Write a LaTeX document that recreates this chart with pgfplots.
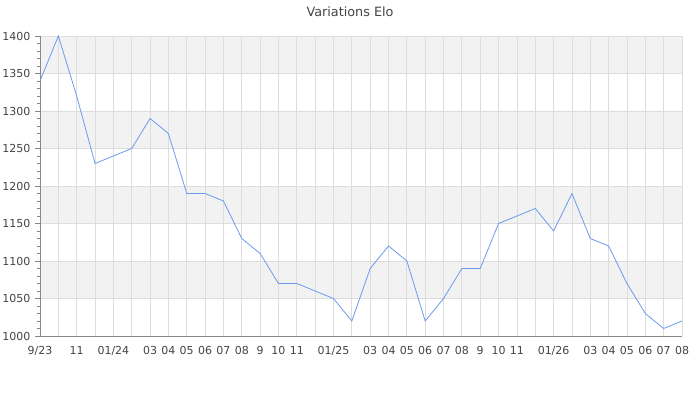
\documentclass[border=0pt]{standalone}
\usepackage{pgfplots}
\pgfplotsset{compat=1.18}
\usepackage{fontspec}
\setmainfont{DejaVu Sans}
\definecolor{txt}{HTML}{444444}
\definecolor{band}{HTML}{F2F2F2}
\definecolor{gridc}{HTML}{DDDDDD}
\definecolor{axisc}{HTML}{888888}
\definecolor{linec}{HTML}{6A9BEF}
\begin{document}
\begin{tikzpicture}
\node[text=txt, font=\fontsize{12.8}{15}\selectfont] at (350pt,388pt) {Variations Elo};
\begin{axis}[
  set layers,
  at={(40pt,64pt)}, anchor=south west,
  scale only axis, width=642pt, height=300pt,
  xmin=0, xmax=35, ymin=1000, ymax=1400,
  axis x line*=bottom, axis y line*=left,
  axis line style={axisc, line width=0.8pt, -},
  xtick={0,...,35},
  xticklabels={9/23,,11,,01/24,,03,04,05,06,07,08,9,10,11,,01/25,,03,04,05,06,07,08,9,10,11,,01/26,,03,04,05,06,07,08},
  ytick={1000,1050,...,1400},
  minor y tick num=4,
  xmajorgrids, ymajorgrids,
  grid style={gridc, line width=0.8pt},
  x tick style={draw=none},
  y tick style={axisc, line width=0.8pt},
  major tick length=5pt, minor tick length=3pt,
  tick align=outside,
  ticklabel style={text=txt, font=\fontsize{11}{13}\selectfont},
  /pgf/number format/assume math mode=true,
  /pgf/number format/1000 sep={},
  yticklabel style={xshift=-1pt},
  xticklabel style={yshift=-2pt},
]
\pgfplotsextra{
\begin{pgfonlayer}{axis background}
\fill[band] (axis cs:0,1350) rectangle (axis cs:35,1400);
\fill[band] (axis cs:0,1250) rectangle (axis cs:35,1300);
\fill[band] (axis cs:0,1150) rectangle (axis cs:35,1200);
\fill[band] (axis cs:0,1050) rectangle (axis cs:35,1100);
\end{pgfonlayer}
}
\addplot[linec, line width=0.8pt, mark=none] coordinates {
(0,1340) (1,1400) (2,1320) (3,1230) (4,1240) (5,1250) (6,1290) (7,1270)
(8,1190) (9,1190) (10,1180) (11,1130) (12,1110) (13,1070) (14,1070) (15,1060)
(16,1050) (17,1020) (18,1090) (19,1120) (20,1100) (21,1020) (22,1050) (23,1090)
(24,1090) (25,1150) (26,1160) (27,1170) (28,1140) (29,1190) (30,1130) (31,1120)
(32,1070) (33,1030) (34,1010) (35,1020)
};
\end{axis}
\pgfresetboundingbox
\path[use as bounding box] (0,0) rectangle (700pt,400pt);
\end{tikzpicture}
\end{document}
